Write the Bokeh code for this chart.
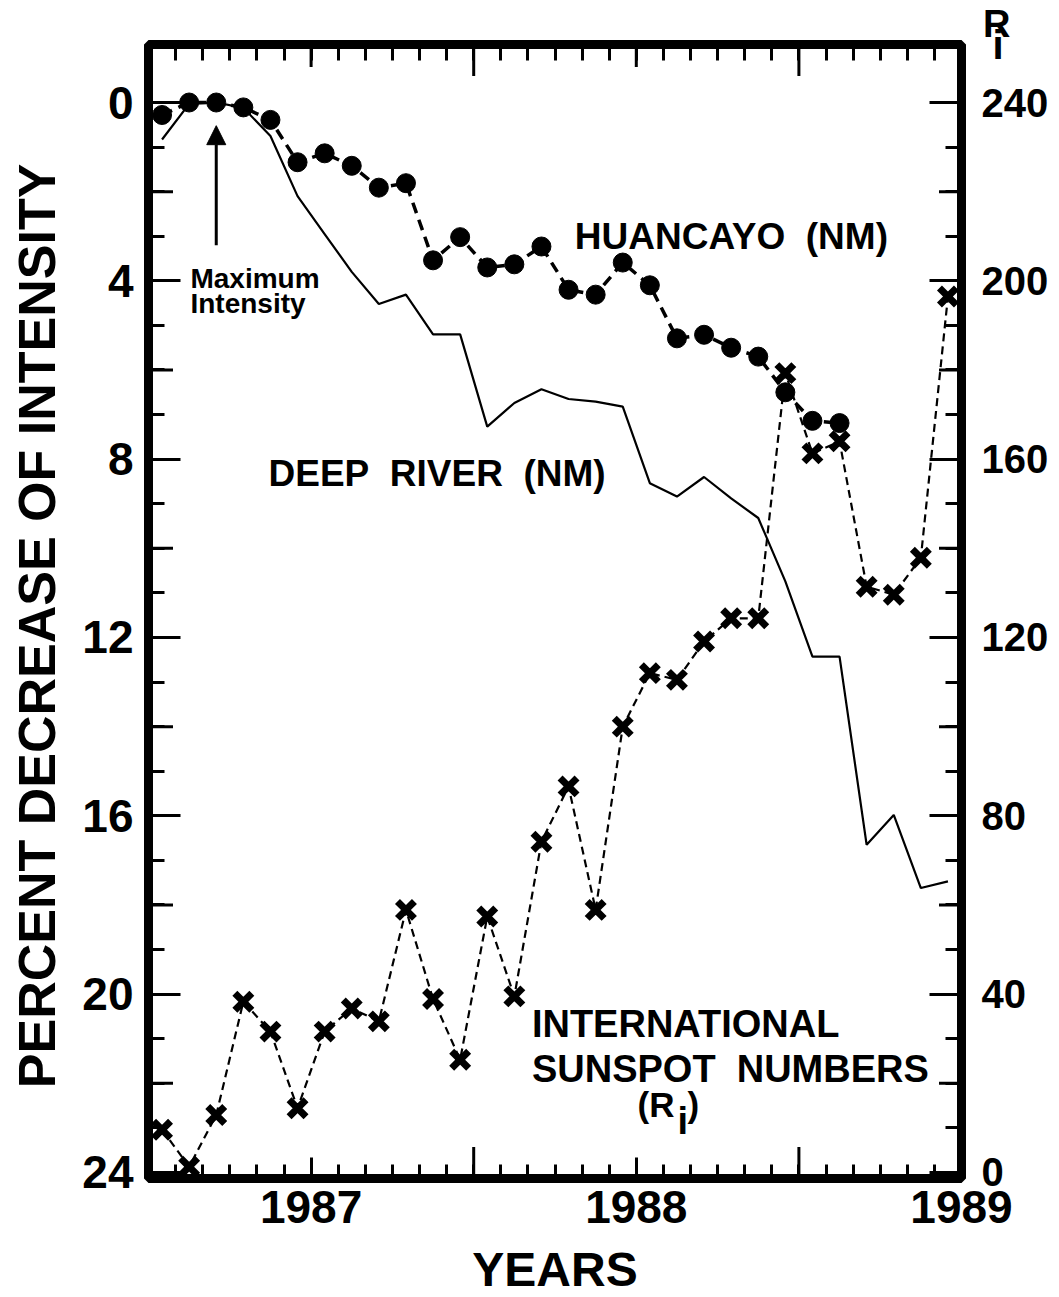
import math
from bokeh.plotting import figure
from bokeh.models import Range1d, LinearAxis, FixedTicker, Label, Arrow, NormalHead, Title
from bokeh.embed import file_html
from bokeh.resources import INLINE

# ---------------- data ----------------
# month number counted from January 1986 (7 = July 1986 ... 36 = December 1988)
months_all = list(range(7, 37))
months_huancayo = list(range(7, 33))   # July 1986 .. August 1988

huancayo_pct = [0.28, 0.0, 0.0, 0.11, 0.39, 1.34, 1.14, 1.42, 1.91, 1.81,
                3.54, 3.02, 3.70, 3.63, 3.23, 4.20, 4.31, 3.59, 4.10, 5.29,
                5.21, 5.50, 5.70, 6.50, 7.14, 7.19]

deep_river_pct = [0.83, 0.03, 0.0, 0.12, 0.75, 2.10, 2.95, 3.80, 4.52, 4.31,
                  5.20, 5.20, 7.27, 6.74, 6.43, 6.65, 6.71, 6.82, 8.54, 8.84,
                  8.40, 8.88, 9.32, 10.74, 12.43, 12.43, 16.65, 15.98, 17.62, 17.47]

sunspot_ri = [9.6, 1.3, 12.9, 38.3, 31.6, 14.4, 31.6, 36.8, 33.9, 58.9,
              38.9, 25.3, 57.4, 39.5, 74.2, 86.6, 58.9, 100.0, 112.0, 110.5,
              119.1, 124.3, 124.3, 179.3, 161.3, 164.0, 131.4, 129.6, 137.9, 196.5]

year_ticks = [1987, 1988, 1989]
year_labels = ["1987", "1988", "1989"]
half_year_ticks = [1987.5, 1988.5]
pct_ticks = [0, 4, 8, 12, 16, 20, 24]
pct_mid_ticks = [2, 6, 10, 14, 18, 22]
ri_ticks = [0, 40, 80, 120, 160, 200, 240]
ri_mid_ticks = [20, 60, 100, 140, 180, 220]
RI_TOP_TICK = 252.9          # carries the subscript "i" of the right-axis title R_i

def dec_year(m):
    return 1986 + (m - 0.5) / 12.0

t_all = [dec_year(m) for m in months_all]
t_hu = [dec_year(m) for m in months_huancayo]

# ---------------- figure ----------------
FW, FH = 813, 1134
X0, X1 = 1986.5, 1989.0
Y_TOP, Y_BOT = -1.301, 24.135
dx = (X1 - X0) / FW
dy = (Y_BOT - Y_TOP) / FH
FONT = "Liberation Sans"
NB = "\u00a0"

p = figure(frame_width=FW, frame_height=FH,
           x_range=Range1d(X0, X1), y_range=Range1d(Y_BOT, Y_TOP),
           output_backend="svg", toolbar_location=None,
           min_border_left=148, min_border_right=98,
           min_border_top=43, min_border_bottom=120,
           background_fill_color="white", border_fill_color="white")
p.extra_y_ranges = {"ri": Range1d(240 - 10 * Y_BOT, 240 - 10 * Y_TOP)}
p.xgrid.visible = False
p.ygrid.visible = False
p.outline_line_color = "black"
p.outline_line_width = 9

# "R" of the right-axis title R_i
p.title.text = "R"
p.title.align = "right"
p.title.offset = -49
p.title.text_font = FONT
p.title.text_font_style = "bold"
p.title.text_font_size = "38px"
p.title.text_color = "black"
if "standoff" in Title.properties():
    p.title.standoff = 0

def style_axis(ax, major_in, minor_in, size, standoff):
    ax.axis_line_color = None
    ax.major_tick_in = major_in
    ax.major_tick_out = 0
    ax.minor_tick_in = minor_in
    ax.minor_tick_out = 0
    ax.major_tick_line_width = 3
    ax.minor_tick_line_width = 3
    ax.major_tick_line_color = "black"
    ax.minor_tick_line_color = "black"
    ax.major_label_text_font = FONT
    ax.major_label_text_font_style = "bold"
    ax.major_label_text_font_size = size
    ax.major_label_text_color = "black"
    ax.major_label_standoff = standoff
    ax.axis_label_text_font = FONT
    ax.axis_label_text_font_style = "bold"
    ax.axis_label_text_color = "black"

month_minor = [X0 + k / 12.0 for k in range(0, 31)]

bottom = p.xaxis[0]
bottom.ticker = FixedTicker(ticks=year_ticks, minor_ticks=month_minor)
bottom.major_label_overrides = {t: s for t, s in zip(year_ticks, year_labels)}
style_axis(bottom, 21, 14, "46px", 12)
bottom.axis_label = "YEARS"
bottom.axis_label_text_font_size = "48px"
bottom.axis_label_standoff = 17

left = p.yaxis[0]
left.ticker = FixedTicker(ticks=pct_ticks, minor_ticks=list(range(0, 25)))
style_axis(left, 32, 16, "46px", 15)
left.axis_label = "PERCENT DECREASE OF INTENSITY" + NB * 2
left.axis_label_text_font_size = "52px"
left.axis_label_standoff = 13

top = LinearAxis(ticker=FixedTicker(ticks=[], minor_ticks=month_minor))
style_axis(top, 22, 16, "20px", 0)
p.add_layout(top, "above")

right = LinearAxis(y_range_name="ri",
                   ticker=FixedTicker(ticks=ri_ticks + [RI_TOP_TICK],
                                      minor_ticks=list(range(0, 241, 10))))
right.major_label_overrides = {RI_TOP_TICK: NB + "i"}
style_axis(right, 32, 16, "40px", 20)
p.add_layout(right, "right")

# medium / long tick marks that the axes cannot draw themselves
n = len(pct_mid_ticks)
p.segment(x0=[X0] * n, x1=[X0 + 24.5 * dx] * n, y0=pct_mid_ticks, y1=pct_mid_ticks,
          line_color="black", line_width=3)
m = len(ri_mid_ticks)
p.segment(x0=[X1] * m, x1=[X1 - 22.5 * dx] * m, y0=ri_mid_ticks, y1=ri_mid_ticks,
          line_color="black", line_width=3, y_range_name="ri")
h = len(half_year_ticks)
p.segment(x0=half_year_ticks, x1=half_year_ticks, y0=[Y_TOP] * h, y1=[Y_TOP + 31.5 * dy] * h,
          line_color="black", line_width=3)
p.segment(x0=half_year_ticks, x1=half_year_ticks, y0=[Y_BOT] * h, y1=[Y_BOT - 31.5 * dy] * h,
          line_color="black", line_width=3)
yt = year_ticks[:2]
p.segment(x0=yt, x1=yt, y0=[Y_TOP] * 2, y1=[Y_TOP + 22.5 * dy] * 2,
          line_color="black", line_width=3)

# ---------------- series ----------------
p.line(t_all, deep_river_pct, line_color="black", line_width=2.2)
p.line(t_hu, huancayo_pct, line_color="black", line_width=3.5, line_dash="11 7")
p.scatter(t_hu, huancayo_pct, marker="circle", size=19,
          fill_color="black", line_color="black")
p.line(t_all, sunspot_ri, line_color="black", line_width=2.2, line_dash="8 5",
       y_range_name="ri")
p.scatter(t_all, sunspot_ri, marker="x", size=24, line_color="black", line_width=7,
          y_range_name="ri")

# ---------------- annotations ----------------
def lab(x, y, text, size, align="left", baseline="alphabetic", angle=0.0):
    p.add_layout(Label(x=x, y=y, text=text, text_font=FONT, text_font_style="bold",
                       text_font_size=size, text_color="black", text_align=align,
                       text_baseline=baseline, angle=angle))

lab(1987.811, 3.01, "HUANCAYO" + NB + " (NM)", "37px")
lab(1986.869, 8.32, "DEEP" + NB + " RIVER" + NB + " (NM)", "37px")
lab(1987.679, 20.68, "INTERNATIONAL", "38px")
lab(1987.679, 21.67, "SUNSPOT" + NB + " NUMBERS", "38px")
lab(1988.0037, 22.48, "(R", "35px")
lab(1988.1267, 22.85, "i", "38px")
lab(1988.1574, 22.48, ")", "35px")
lab(1986.629, 3.95, "Maximum", "28px")
lab(1986.629, 4.50, "Intensity", "28px")

p.add_layout(Arrow(end=NormalHead(size=19, fill_color="black", line_color="black"),
                   x_start=dec_year(9), y_start=3.2, x_end=dec_year(9), y_end=0.52,
                   line_color="black", line_width=3))

open("out.html", "w").write(file_html(p, INLINE))
